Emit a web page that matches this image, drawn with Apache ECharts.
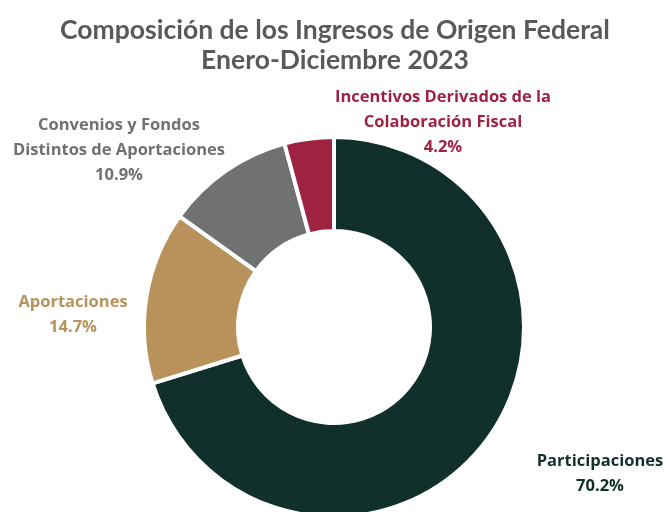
<!DOCTYPE html>
<html><head><meta charset="utf-8">
<script src="https://cdn.jsdelivr.net/npm/echarts@6/dist/echarts.min.js"></script>
<style>html,body{margin:0;padding:0;background:#fff}#c{width:670px;height:512px}</style>
</head><body><div id="c"></div>
<script>
const categories = ['Participaciones', 'Aportaciones', 'Convenios y Fondos\nDistintos de Aportaciones', 'Incentivos Derivados de la\nColaboración Fiscal'];
const values = [70.2, 14.7, 10.9, 4.2];
const colors = ['#12302B', '#B8925A', '#6F7271', '#9F2241'];
const labelPos = [[600, 474], [73, 315], [119, 150], [443, 122]];

const chart = echarts.init(document.getElementById('c'));
chart.setOption({
  animation: false,
  title: {
    text: 'Composición de los Ingresos de Origen Federal\nEnero-Diciembre 2023',
    left: 'center', top: 10,
    padding: [5, 10, 5, 0],
    textStyle: { fontFamily: 'Lato', fontWeight: 'bold', fontSize: 26.5, color: '#58595B', lineHeight: 30 }
  },
  series: [{
    type: 'pie',
    center: [334, 327],
    radius: [96, 190],
    startAngle: 90,
    clockwise: true,
    avoidLabelOverlap: false,
    itemStyle: { borderColor: '#fff', borderWidth: 4 },
    label: {
      show: true,
      position: 'outside',
      formatter: p => p.name + '\n' + p.value.toFixed(1) + '%',
      fontFamily: 'Open Sans', fontWeight: 'bold', fontSize: 16.5, lineHeight: 25,
      align: 'center'
    },
    labelLine: { show: false },
    labelLayout: p => ({ x: labelPos[p.dataIndex][0], y: labelPos[p.dataIndex][1], align: 'center', verticalAlign: 'middle' }),
    data: categories.map((n, i) => ({ name: n, value: values[i], itemStyle: { color: colors[i] }, label: { color: colors[i] } }))
  }]
});
</script></body></html>
